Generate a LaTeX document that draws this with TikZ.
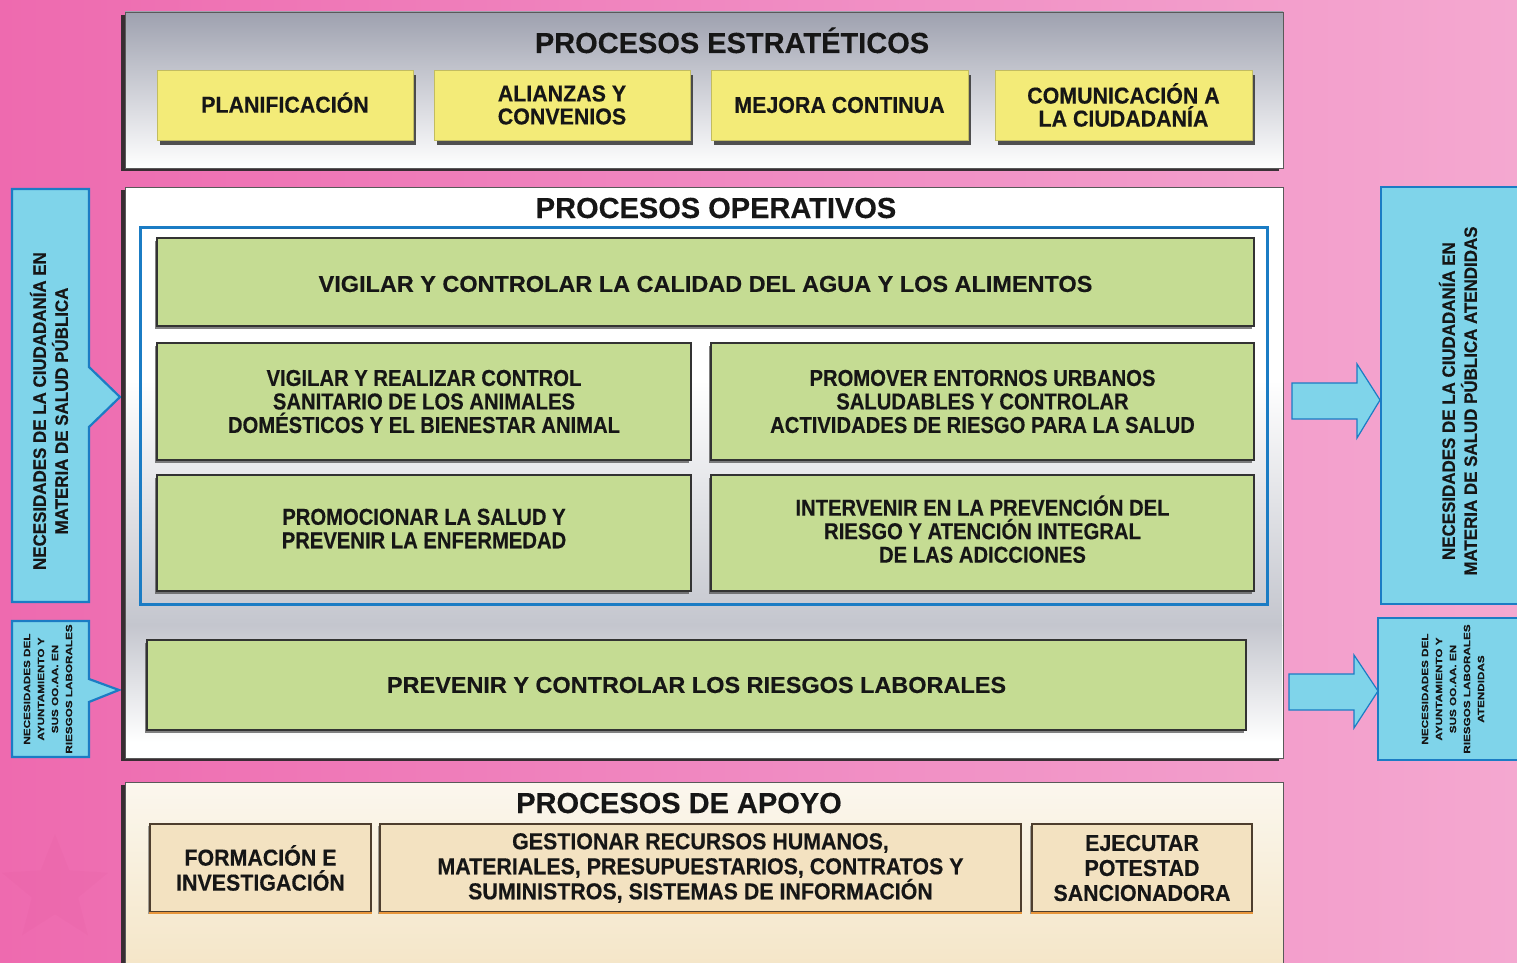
\documentclass[tikz,border=0pt]{standalone}
\usepackage{fontspec}
\setmainfont{Liberation Sans}[FakeBold=0.3]
\newfontfamily\fA[FakeStretch=0.93,FakeBold=0.4]{Liberation Sans}
\newfontfamily\fB[FakeStretch=0.88,FakeBold=0.4]{Liberation Sans}
\newfontfamily\fC[FakeStretch=1.02,FakeBold=0.4]{Liberation Sans}
\newfontfamily\fL[FakeStretch=0.94,FakeBold=0.4]{Liberation Sans}
\newfontfamily\fS[FakeStretch=1.3,FakeBold=0.3]{Liberation Sans}
\usetikzlibrary{shadows,shapes.geometric}
\definecolor{pinkL}{HTML}{EE6AAF}
\definecolor{pinkM}{HTML}{F08AC2}
\definecolor{pinkR}{HTML}{F4A8D0}
\definecolor{yboxc}{HTML}{F3EB78}
\definecolor{gboxc}{HTML}{C5DC93}
\definecolor{cyanb}{HTML}{7FD4EA}
\definecolor{blueb}{HTML}{1B7CC4}
\definecolor{creamP}{HTML}{F4E5C6}
\definecolor{creamT}{HTML}{FBF7EE}
\definecolor{creamB}{HTML}{F3E2C1}
\definecolor{brownB}{HTML}{4E3E2E}
\definecolor{orangeB}{HTML}{E8963C}
\definecolor{grayP}{HTML}{9EA1AF}
\definecolor{grayM}{HTML}{C4C6CE}
\definecolor{txt}{HTML}{161616}
\tikzset{
  x=1pt, y=-1pt,
  panel/.style={draw=black!65, line width=0.8pt, inner sep=0pt,
    drop shadow={shadow xshift=-4pt, shadow yshift=-3pt, fill=black!85, opacity=0.9}},
  ptitle/.style={anchor=base, text=txt, font={\bfseries\fontsize{29}{30}\selectfont}},
  ybox/.style={fill=yboxc, draw=yboxc!80!black, line width=0.4pt, inner sep=0pt,
    align=center, text=txt, font={\fA\bfseries\fontsize{23}{23}\selectfont},
    drop shadow={shadow xshift=3pt, shadow yshift=-5pt, fill=black!80, opacity=0.85}},
  gbox/.style={fill=gboxc, draw=black!80, line width=1.4pt, inner sep=0pt,
    align=center, text=txt, font={\fB\bfseries\fontsize{23}{23.5}\selectfont},
    drop shadow={shadow xshift=-2pt, shadow yshift=-3pt, fill=black!70, opacity=0.7}},
  gwide/.style={font={\fC\bfseries\fontsize{23}{23.5}\selectfont}},
  sbox/.style={fill=creamB, draw=brownB, line width=2pt, inner sep=0pt,
    align=center, text=txt, font={\fA\bfseries\fontsize{23}{25}\selectfont},
    drop shadow={shadow xshift=-2pt, shadow yshift=-2pt, fill=black!60, opacity=0.6}},
  cyanshape/.style={fill=cyanb, draw=blueb, line width=2.2pt, line join=miter},
  arrowshape/.style={fill=cyanb, draw=blueb, line width=1.2pt, line join=miter},
  sidebig/.style={rotate=90, align=center, text=txt, font={\fL\bfseries\fontsize{18}{22}\selectfont}},
  sidesmall/.style={rotate=90, align=center, text=txt, font={\fS\bfseries\fontsize{9}{14}\selectfont}},
}
\begin{document}
\begin{tikzpicture}
\useasboundingbox (0,0) rectangle (1517,963);
% background
\shade[left color=pinkL, right color=pinkM] (0,0) rectangle (760,963);
\shade[left color=pinkM, right color=pinkR] (760,0) rectangle (1517,963);
\node[star, star points=5, star point ratio=2.3, minimum size=112, fill=purple, opacity=0.025] (star) at (55,890) {};

% side callouts left
\path[cyanshape] (12,189) -- (89,189) -- (89,367) -- (120,397) -- (89,427) -- (89,602) -- (12,602) -- cycle;
\path[cyanshape] (12,621) -- (89,621) -- (89,679) -- (119,690) -- (89,702) -- (89,757) -- (12,757) -- cycle;
\node[sidebig] (needL) at (49,411) {NECESIDADES DE LA CIUDADANÍA EN\\MATERIA DE SALUD PÚBLICA};
\node[sidesmall] (needLs) at (48,689) {NECESIDADES DEL\\AYUNTAMIENTO Y\\SUS OO.AA. EN\\RIESGOS LABORALES};

% right boxes
\path[cyanshape] (1381,187) rectangle (1530,604);
\path[cyanshape] (1378,618) rectangle (1530,760);
\node[sidebig] (needR) at (1458,401) {NECESIDADES DE LA CIUDADANÍA EN\\MATERIA DE SALUD PÚBLICA ATENDIDAS};
\node[sidesmall] (needRs) at (1453,689) {NECESIDADES DEL\\AYUNTAMIENTO Y\\SUS OO.AA. EN\\RIESGOS LABORALES\\ATENDIDAS};
% right arrows
\path[arrowshape] (1292,383) -- (1357,383) -- (1357,364) -- (1380,400) -- (1357,438) -- (1357,419) -- (1292,419) -- cycle;
\path[arrowshape] (1289,674) -- (1354,674) -- (1354,655) -- (1378,691) -- (1354,728) -- (1354,710) -- (1289,710) -- cycle;

% strategic panel
\node[panel, minimum width=1158, minimum height=156, top color=grayP, bottom color=white] (est) at (704,90) {};
\node[ptitle] (estT) at (732,53) {PROCESOS ESTRATÉTICOS};
\node[ybox, minimum width=256, minimum height=70, text depth=5pt] (e1) at (285,105) {PLANIFICACIÓN};
\node[ybox, minimum width=256, minimum height=70] (e2) at (562,105) {ALIANZAS Y\\CONVENIOS};
\node[ybox, minimum width=257, minimum height=70] (e3) at (839.5,105) {MEJORA CONTINUA};
\node[ybox, minimum width=257, minimum height=70] (e4) at (1123.5,105) {COMUNICACIÓN A\\LA CIUDADANÍA};

% operational panel
\node[panel, minimum width=1158, minimum height=571, fill=white] (ope) at (704,472.5) {};
\shade[top color=white, bottom color=grayM] (126,380) rectangle (1282,625);
\shade[top color=grayM, bottom color=white] (126,625) rectangle (1282,742);
\node[ptitle] (opeT) at (716,218) {PROCESOS OPERATIVOS};
\draw[blueb, line width=3pt] (140,227) rectangle (1267,604);
\node[gbox, gwide, minimum width=1097, minimum height=88, text height=20pt] (o1) at (705.5,282) {VIGILAR Y CONTROLAR LA CALIDAD DEL AGUA Y LOS ALIMENTOS};
\node[gbox, minimum width=534, minimum height=117] (o2) at (424,401.5) {VIGILAR Y REALIZAR CONTROL\\SANITARIO DE LOS ANIMALES\\DOMÉSTICOS Y EL BIENESTAR ANIMAL};
\node[gbox, minimum width=543, minimum height=117] (o3) at (982.5,401.5) {PROMOVER ENTORNOS URBANOS\\SALUDABLES Y CONTROLAR\\ACTIVIDADES DE RIESGO PARA LA SALUD};
\node[gbox, minimum width=534, minimum height=116, text depth=9pt] (o4) at (424,533) {PROMOCIONAR LA SALUD Y\\PREVENIR LA ENFERMEDAD};
\node[gbox, minimum width=543, minimum height=116, text depth=8pt] (o5) at (982.5,533) {INTERVENIR EN LA PREVENCIÓN DEL\\RIESGO Y ATENCIÓN INTEGRAL\\DE LAS ADICCIONES};
\node[gbox, gwide, minimum width=1099, minimum height=90] (o6) at (696.5,685) {PREVENIR Y CONTROLAR LOS RIESGOS LABORALES};

% support panel
\node[panel, minimum width=1158, minimum height=193, top color=creamT, bottom color=creamP] (apo) at (704,878.5) {};
\node[ptitle] (apoT) at (679,813) {PROCESOS DE APOYO};
\node[sbox, minimum width=221, minimum height=88] (a1) at (260.5,868) {FORMACIÓN E\\INVESTIGACIÓN};
\node[sbox, minimum width=641, minimum height=88] (a2) at (700.5,868) {GESTIONAR RECURSOS HUMANOS,\\MATERIALES, PRESUPUESTARIOS, CONTRATOS Y\\SUMINISTROS, SISTEMAS DE INFORMACIÓN};
\node[sbox, minimum width=220, minimum height=88] (a3) at (1142,868) {EJECUTAR\\POTESTAD\\SANCIONADORA};
\foreach \b in {a1,a2,a3}{
  \draw[orangeB, line width=1.6pt] (\b.south west) -- (\b.south east);
}
\end{tikzpicture}
\end{document}
